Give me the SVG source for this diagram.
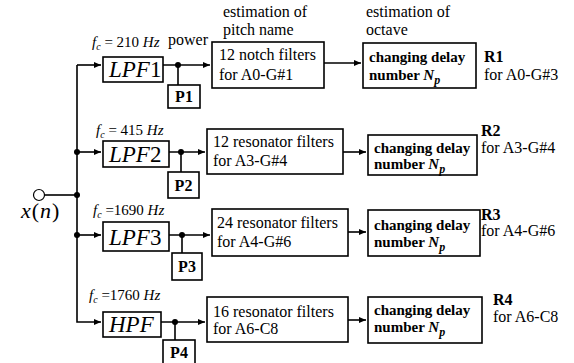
<svg xmlns="http://www.w3.org/2000/svg" width="574" height="363" viewBox="0 0 574 363" font-family="'Liberation Serif', 'Times New Roman', serif">
<defs>
<marker id="ah" markerWidth="8" markerHeight="6" refX="7" refY="3" orient="auto" markerUnits="userSpaceOnUse"><path d="M0,0 L7,3 L0,6 Z" fill="#000"/></marker>
<style>
.box{fill:#fff;stroke:#000;stroke-width:1.6}
.ln{fill:none;stroke:#000;stroke-width:1.6}
text{font-family:'Liberation Serif','Times New Roman',serif;fill:#000}
.t{font-size:16px}
.b{font-size:15px;font-weight:bold}
.p{font-size:16px;font-weight:bold}
.lpf{font-size:23px;font-style:italic}
.fc{font-size:15px}
.i{font-style:italic}
.r{font-style:normal}
</style>
</defs>
<rect width="574" height="363" fill="#fff"/>
<g id="connectors">
<path class="ln" d="M45,195 L77,195"/>
<path class="ln" d="M77,65 L77,322 L101,322" marker-end="url(#ah)"/>
<path class="ln" d="M77,65 L101,65" marker-end="url(#ah)"/>
<path class="ln" d="M77,152 L101,152" marker-end="url(#ah)"/>
<path class="ln" d="M77,235 L101,235" marker-end="url(#ah)"/>
<circle cx="77" cy="152" r="3" fill="#000"/>
<circle cx="77" cy="195" r="3" fill="#000"/>
<circle cx="77" cy="235" r="3" fill="#000"/>
<path class="ln" d="M163,65 L210,65" marker-end="url(#ah)"/>
<path class="ln" d="M178,65 L178,85"/>
<circle cx="178" cy="65" r="3" fill="#000"/>
<path class="ln" d="M169,152 L205,152" marker-end="url(#ah)"/>
<path class="ln" d="M181,152 L181,172"/>
<circle cx="181" cy="152" r="3" fill="#000"/>
<path class="ln" d="M169,235 L210,235" marker-end="url(#ah)"/>
<path class="ln" d="M182,235 L182,253"/>
<circle cx="182" cy="235" r="3" fill="#000"/>
<path class="ln" d="M161,322 L205,322" marker-end="url(#ah)"/>
<path class="ln" d="M175,322 L175,340"/>
<circle cx="175" cy="322" r="3" fill="#000"/>
<path class="ln" d="M324,63 L361,63" marker-end="url(#ah)"/>
<path class="ln" d="M343,152 L366,152" marker-end="url(#ah)"/>
<path class="ln" d="M348,232 L366,232" marker-end="url(#ah)"/>
<path class="ln" d="M348,320 L366,320" marker-end="url(#ah)"/>
</g>
<g id="input">
<circle cx="39" cy="195" r="5.5" fill="#fff" stroke="#000" stroke-width="1.2"/>
<text x="21" y="218" font-size="22" font-style="italic" letter-spacing="1">x<tspan font-style="normal">(</tspan>n<tspan font-style="normal">)</tspan></text>
</g>
<g id="headers">
<text class="t" x="223" y="17">estimation of</text>
<text class="t" x="223" y="35">pitch name</text>
<text class="t" x="366" y="17">estimation of</text>
<text class="t" x="366" y="35">octave</text>
<text class="t" x="168" y="45">power</text>
</g>
<g id="lpf1">
<text class="fc" x="92" y="47"><tspan class="i">f</tspan><tspan class="i" font-size="10" dy="3">c</tspan><tspan dy="-3"> = 210 </tspan><tspan class="i">Hz</tspan></text>
<rect class="box" x="103" y="57" width="60" height="25"/>
<text class="lpf" x="109" y="77">LPF<tspan class="r">1</tspan></text>
</g>
<g id="p1"><rect class="box" x="168" y="85" width="32" height="23"/><text class="p" x="184" y="102" text-anchor="middle">P1</text></g>
<g id="lpf2">
<text class="fc" x="96" y="135"><tspan class="i">f</tspan><tspan class="i" font-size="10" dy="3">c</tspan><tspan dy="-3"> = 415 </tspan><tspan class="i">Hz</tspan></text>
<rect class="box" x="103" y="141" width="66" height="26"/>
<text class="lpf" x="109" y="162">LPF<tspan class="r">2</tspan></text>
</g>
<g id="p2"><rect class="box" x="168" y="172" width="31" height="26"/><text class="p" x="183.5" y="191" text-anchor="middle">P2</text></g>
<g id="lpf3">
<text class="fc" x="93" y="215"><tspan class="i">f</tspan><tspan class="i" font-size="10" dy="3">c</tspan><tspan dy="-3"> =1690 </tspan><tspan class="i">Hz</tspan></text>
<rect class="box" x="103" y="222" width="66" height="29"/>
<text class="lpf" x="109" y="245">LPF<tspan class="r">3</tspan></text>
</g>
<g id="p3"><rect class="box" x="172" y="253" width="30" height="27"/><text class="p" x="187" y="272" text-anchor="middle">P3</text></g>
<g id="hpf">
<text class="fc" x="89" y="300"><tspan class="i">f</tspan><tspan class="i" font-size="10" dy="3">c</tspan><tspan dy="-3"> =1760 </tspan><tspan class="i">Hz</tspan></text>
<rect class="box" x="103" y="312" width="58" height="25"/>
<text class="lpf" x="109" y="332">HPF</text>
</g>
<g id="p4"><rect class="box" x="163" y="340" width="32" height="26"/><text class="p" x="179" y="358" text-anchor="middle">P4</text></g>
<g id="notch">
<rect class="box" x="212" y="42" width="112" height="46"/>
<text class="t" x="219" y="60">12 notch filters</text>
<text class="t" x="219" y="80">for A0-G#1</text>
</g>
<g id="res12">
<rect class="box" x="207" y="129" width="136" height="45"/>
<text class="t" x="213" y="147">12 resonator filters</text>
<text class="t" x="213" y="166">for A3-G#4</text>
</g>
<g id="res24">
<rect class="box" x="212" y="209" width="136" height="47"/>
<text class="t" x="217" y="228">24 resonator filters</text>
<text class="t" x="217" y="247">for A4-G#6</text>
</g>
<g id="res16">
<rect class="box" x="207" y="297" width="141" height="45"/>
<text class="t" x="213" y="317">16 resonator filters</text>
<text class="t" x="213" y="334">for A6-C8</text>
</g>
<g id="oct1">
<rect class="box" x="363" y="43" width="113" height="45"/>
<text class="b" x="369" y="62">changing delay</text>
<text class="b" x="369" y="80">number <tspan class="i">N</tspan><tspan class="i" font-size="12" dy="4">p</tspan></text>
</g>
<g id="oct2">
<rect class="box" x="368" y="135" width="109" height="40"/>
<text class="b" x="374" y="153">changing delay</text>
<text class="b" x="374" y="169">number <tspan class="i">N</tspan><tspan class="i" font-size="12" dy="4">p</tspan></text>
</g>
<g id="oct3">
<rect class="box" x="368" y="210" width="112" height="46"/>
<text class="b" x="374" y="230">changing delay</text>
<text class="b" x="374" y="247">number <tspan class="i">N</tspan><tspan class="i" font-size="12" dy="4">p</tspan></text>
</g>
<g id="oct4">
<rect class="box" x="368" y="297" width="114" height="46"/>
<text class="b" x="374" y="315">changing delay</text>
<text class="b" x="374" y="332">number <tspan class="i">N</tspan><tspan class="i" font-size="12" dy="4">p</tspan></text>
</g>
<g id="results">
<text class="p" x="484" y="62">R1</text>
<text class="t" x="484" y="80">for A0-G#3</text>
<text class="p" x="481" y="136">R2</text>
<text class="t" x="481" y="153">for A3-G#4</text>
<text class="p" x="481" y="220">R3</text>
<text class="t" x="481" y="236">for A4-G#6</text>
<text class="p" x="493" y="305">R4</text>
<text class="t" x="493" y="322">for A6-C8</text>
</g>
</svg>
